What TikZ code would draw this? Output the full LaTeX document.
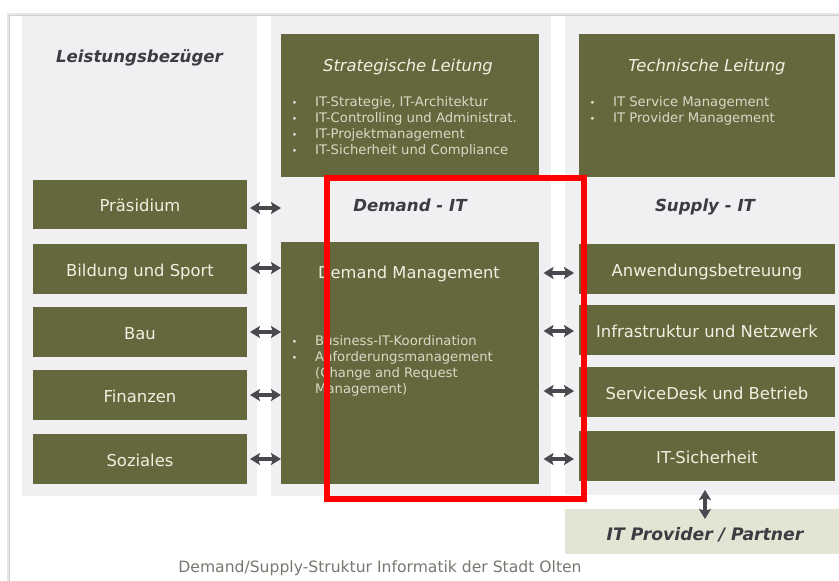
\documentclass[tikz,border=0pt]{standalone}
\usepackage{fontspec}
\setmainfont{DejaVu Sans}
\usetikzlibrary{arrows.meta}
\definecolor{olive}{HTML}{65683C}
\definecolor{panel}{HTML}{F0F0F2}
\definecolor{light}{HTML}{F0F0E2}
\definecolor{soft}{HTML}{D8D9C6}
\definecolor{ink}{HTML}{3C3C42}
\definecolor{arrowc}{HTML}{48484E}
\definecolor{provider}{HTML}{E3E4D3}
\definecolor{caption}{HTML}{77786F}
\definecolor{shadow}{HTML}{CFCFCF}
\definecolor{shadowb}{HTML}{E6E6E6}
\definecolor{markred}{HTML}{FE0000}
\newcommand{\blt}{\makebox[24pt][l]{\hspace{0.5pt}\scalebox{0.75}{•}}}
\tikzset{
  x=1pt,y=-1pt,
  panelbox/.style={fill=panel,draw=none,inner sep=0pt,outer sep=0pt,anchor=north west},
  box/.style={fill=olive,draw=none,inner sep=0pt,outer sep=0pt,anchor=north west,text=light,font=\fontsize{16.4pt}{18pt}\selectfont,text height=14pt,text depth=0pt},
  head/.style={text=light,font=\fontsize{16.4pt}{18pt}\selectfont\itshape,inner sep=0pt},
  group/.style={text=ink,font=\fontsize{16.6pt}{18pt}\selectfont\bfseries\itshape,inner sep=0pt},
  items/.style={text=soft,font=\fontsize{13.2pt}{16pt}\selectfont,align=left,anchor=north west,inner sep=0pt},
  link/.style={draw=arrowc,line width=3.2pt,{Stealth[length=10pt,width=12pt,inset=2pt]}-{Stealth[length=10pt,width=12pt,inset=2pt]}},
}
\begin{document}
\begin{tikzpicture}
\useasboundingbox (0,0) rectangle (839,581);
\fill[white] (0,0) rectangle (839,581);
\draw[shadowb,line width=3pt] (8,581) -- (8,14) -- (839,14);
\draw[shadow,line width=1pt] (9.5,581) -- (9.5,15.5) -- (839,15.5);
% panels
\node[panelbox,minimum width=235pt,minimum height=480pt] (pl) at (22,16) {};
\node[panelbox,minimum width=280pt,minimum height=480pt] (pm) at (271,16) {};
\node[panelbox,minimum width=274pt,minimum height=479pt] (pr) at (565,16) {};
% boxes
\node[box,minimum width=214pt,minimum height=49pt] (praes) at (33,180) {Präsidium};
\node[box,minimum width=214pt,minimum height=50pt] (bild) at (33,244) {Bildung und Sport};
\node[box,minimum width=214pt,minimum height=50pt] (bau) at (33,307) {Bau};
\node[box,minimum width=214pt,minimum height=50pt] (fin) at (33,370) {Finanzen};
\node[box,minimum width=214pt,minimum height=50pt] (soz) at (33,434) {Soziales};
\node[box,minimum width=257.5pt,minimum height=143pt] (strat) at (281,34) {};
\node[box,minimum width=257.5pt,minimum height=242pt] (dm) at (281,242) {};
\node[box,minimum width=256pt,minimum height=143pt] (tech) at (579,34) {};
\node[box,minimum width=256pt,minimum height=50pt] (anw) at (579,244) {Anwendungsbetreuung};
\node[box,minimum width=256pt,minimum height=50pt] (infra) at (579,305) {Infrastruktur und Netzwerk};
\node[box,minimum width=256pt,minimum height=50pt] (serv) at (579,367) {ServiceDesk und Betrieb};
\node[box,minimum width=256pt,minimum height=50pt] (sich) at (579,431) {IT-Sicherheit};
\node[fill=provider,inner sep=0pt,outer sep=0pt,anchor=north west,minimum width=274pt,minimum height=45pt] (prov) at (565,509) {};
% texts
\node[group] (t1) at (139.5,57.5) {Leistungsbezüger};
\node[group] (t2) at (410,205) {Demand - IT};
\node[group] (t3) at (705,206.5) {Supply - IT};
\node[group,font=\fontsize{17.2pt}{18pt}\selectfont\bfseries\itshape] (t4) at (705,535) {IT Provider / Partner};
\node[head] (t5) at (408,67) {Strategische Leitung};
\node[head] (t6) at (707,67) {Technische Leitung};
\node[text=light,inner sep=0pt,font=\fontsize{16.3pt}{18pt}\selectfont] (t7) at (409,274) {Demand Management};
\node[items] (l1) at (291,96) {\blt IT-Strategie, IT-Architektur\\\blt IT-Controlling und Administrat.\\\blt IT-Projektmanagement\\\blt IT-Sicherheit und Compliance};
\node[items] (l2) at (589,96) {\blt IT Service Management\\\blt IT Provider Management};
\node[items] (l3) at (291,335) {\blt Business-IT-Koordination\\\blt Anforderungsmanagement\\\hspace*{24pt}(Change and Request\\\hspace*{24pt}Management)};
\node[text=caption,inner sep=0pt,font=\fontsize{15.6pt}{18pt}\selectfont] (cap) at (380,568) {Demand/Supply-Struktur Informatik der Stadt Olten};
% connectors
\coordinate (pfree) at (281,208);
\draw[link,shorten <=3pt] ([yshift=-3.5pt]praes.east) -- (pfree);
\draw[link,shorten <=3pt] ([yshift=1pt]bild.east) -- ([yshift=1pt]bild.east -| dm.west);
\draw[link,shorten <=3pt] (bau.east) -- (bau.east -| dm.west);
\draw[link,shorten <=3pt] (fin.east) -- (fin.east -| dm.west);
\draw[link,shorten <=3pt] (soz.east) -- (soz.east -| dm.west);
\draw[link,shorten <=5pt,shorten >=5pt] ([yshift=-4pt]anw.west -| dm.east) -- ([yshift=-4pt]anw.west);
\draw[link,shorten <=5pt,shorten >=5pt] ([yshift=-1pt]infra.west -| dm.east) -- ([yshift=-1pt]infra.west);
\draw[link,shorten <=5pt,shorten >=5pt] ([yshift=1pt]serv.west -| dm.east) -- ([yshift=1pt]serv.west);
\draw[link,shorten <=5pt,shorten >=5pt] ([yshift=-3pt]sich.west -| dm.east) -- ([yshift=-3pt]sich.west);
\coordinate (vtop) at (705,481);
\draw[link,shorten <=9pt,shorten >=-10pt] (vtop) -- (vtop |- prov.north);
% red frame
\node[draw=markred,line width=5.5pt,fill=none,inner sep=0pt,outer sep=0pt,minimum width=257pt,minimum height=321pt,anchor=north west] (frame) at (327,178) {};
\end{tikzpicture}
\end{document}
